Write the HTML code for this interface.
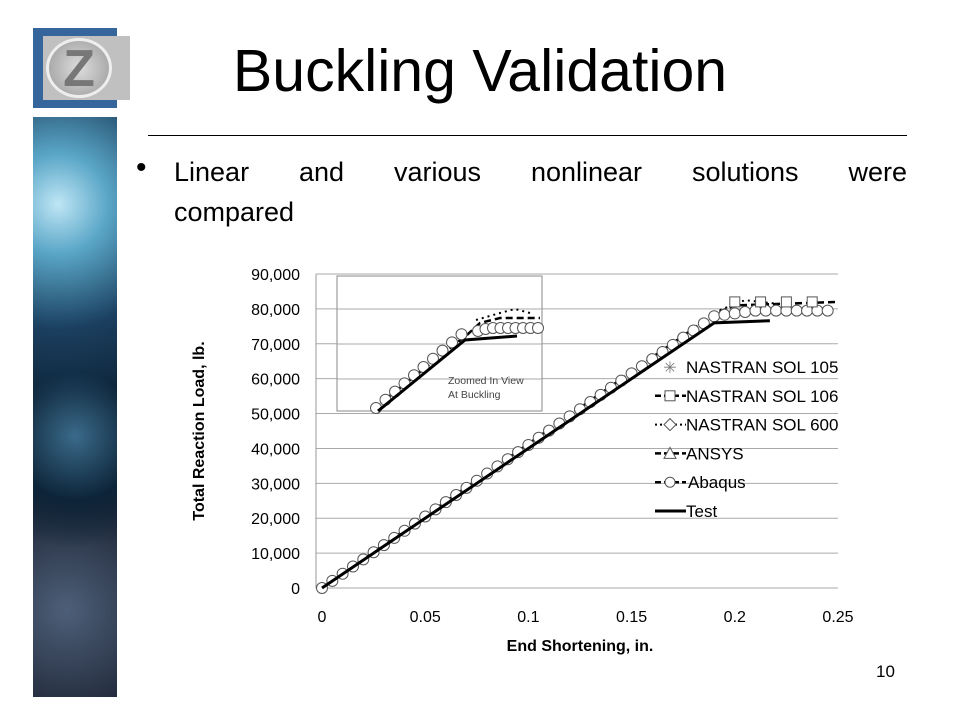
<!DOCTYPE html>
<html><head><meta charset="utf-8"><style>
body{margin:0;width:960px;height:720px;background:#fff;overflow:hidden;position:relative;font-family:"Liberation Sans",sans-serif}
.t{position:absolute}
</style></head><body>
<div class="t" style="left:33px;top:28px;width:84px;height:80px;background:#35659a"></div>
<div class="t" style="left:43px;top:36px;width:87px;height:64px;background:#c0c0c0"></div>
<div class="t" style="left:46px;top:38px;width:66px;height:60px;border-radius:50%;border:3px solid #eee;box-sizing:border-box;background:radial-gradient(circle,#ddd,#999);color:#777;font-size:52px;font-weight:bold;text-align:center;line-height:56px">Z</div>
<div class="t" style="left:33px;top:117px;width:84px;height:580px;background:radial-gradient(circle at 30% 15%,#bfe6f5 0%,#5aa6c7 10%,#1b4060 25%,transparent 40%),radial-gradient(circle at 50% 55%,#3a6a8a 0%,#0d2438 20%,transparent 35%),radial-gradient(circle at 40% 85%,#4d5f78 0%,#1a2030 25%,transparent 40%),linear-gradient(#2a5a80,#0a1a2a 30%,#142a40 50%,#0a1420 70%,#303848 90%,#1a2030)"></div>
<div class="t" style="left:0;width:960px;top:36px;text-align:center;font-size:59px;line-height:70px;color:#000">Buckling Validation</div>
<div class="t" style="left:148px;top:135px;width:759px;height:1px;background:#000"></div>
<div class="t" style="left:136px;top:151px;font-size:30px">•</div>
<div class="t" style="left:174px;top:152px;width:733px;font-size:27px;line-height:40px;text-align:justify;text-align-last:justify">Linear and various nonlinear solutions were</div>
<div class="t" style="left:174px;top:192px;font-size:27px;line-height:40px">compared</div>
<div class="t" style="left:876px;top:662px;font-size:17px">10</div>
<svg class="t" style="left:0;top:0" width="960" height="720" id="s" font-family="Liberation Sans, sans-serif"></svg>
<script>
var s=document.getElementById('s'),h='';
function X(v){return 322+v*2064}function Y(v){return 588-v*3.489/1000}
for(var i=0;i<=9;i++){var y=Y(i*10000);h+='<line x1="316" x2="838" y1="'+y+'" y2="'+y+'" stroke="#aaa" stroke-width="1"/>';
h+='<text x="300" y="'+(y+6)+'" font-size="16" text-anchor="end">'+(i==0?'0':(i*10)+',000')+'</text>';}
h+='<line x1="316" x2="316" y1="274" y2="588" stroke="#999"/>';
['0','0.05','0.1','0.15','0.2','0.25'].forEach(function(t,i){h+='<text x="'+X(i*0.05)+'" y="622" font-size="16" text-anchor="middle">'+t+'</text>'});
h+='<text x="580" y="651" font-size="16" font-weight="bold" text-anchor="middle">End Shortening, in.</text>';
h+='<text transform="translate(204,431) rotate(-90)" font-size="16" font-weight="bold" text-anchor="middle">Total Reaction Load, lb.</text>';
h+='<polyline points="'+X(0)+','+Y(0)+' '+X(0.19)+','+Y(78500)+' '+X(0.2)+','+Y(81000)+' '+X(0.25)+','+Y(82000)+'" fill="none" stroke="#000" stroke-width="2.5" stroke-dasharray="7,4"/>';
h+='<polyline points="'+X(0.19)+','+Y(79000)+' '+X(0.205)+','+Y(82500)+' '+X(0.22)+','+Y(81500)+'" fill="none" stroke="#000" stroke-width="2" stroke-dasharray="2,4"/>';
for(var v=0;v<=0.249;v+=0.005){var L=v<0.19?v*410000:Math.min(79500,77900+(v-0.19)*80000);h+='<circle cx="'+X(v)+'" cy="'+Y(L)+'" r="5.5" fill="#fff" stroke="#555"/>';}
for(var v=0.2;v<=0.25;v+=0.0125){h+='<rect x="'+(X(v)-5)+'" y="'+(Y(82000)-5)+'" width="10" height="10" fill="#fff" stroke="#555"/>';}
h+='<polyline points="'+X(0)+','+Y(0)+' '+X(0.19)+','+Y(76000)+' '+X(0.217)+','+Y(76600)+'" fill="none" stroke="#000" stroke-width="3"/>';
h+='<rect x="337" y="276" width="205" height="135" fill="#fff" stroke="#888"/>';
[309,344,379].forEach(function(y){h+='<line x1="337" x2="542" y1="'+y+'" y2="'+y+'" stroke="#aaa"/>';});
h+='<polyline points="372,410 468,334 480,323 500,318 540,318" fill="none" stroke="#000" stroke-width="2.5" stroke-dasharray="7,4"/>';
h+='<polyline points="476,320 500,313 515,309 530,313" fill="none" stroke="#000" stroke-width="2" stroke-dasharray="2,4"/>';
for(var k=0;k<10;k++){h+='<circle cx="'+(376+k*9.5)+'" cy="'+(408-k*8.2)+'" r="5.5" fill="#fff" stroke="#555"/>';}
for(var k=0;k<9;k++){h+='<circle cx="'+(478+k*7.5)+'" cy="'+(331-(k<2?k*2:3))+'" r="5.5" fill="#fff" stroke="#555"/>';}
h+='<polyline points="378,411 465,340 517,336" fill="none" stroke="#000" stroke-width="3"/>';
h+='<text x="448" y="384" font-size="10.5" fill="#444">Zoomed In View</text><text x="448" y="398" font-size="10.5" fill="#444">At Buckling</text>';
var names=['NASTRAN SOL 105','NASTRAN SOL 106','NASTRAN SOL 600','ANSYS','Abaqus','Test'];
names.forEach(function(n,i){var y=367+i*28.8;
if(i==1||i==3||i==4)h+='<line x1="655" x2="686" y1="'+y+'" y2="'+y+'" stroke="#000" stroke-width="2.5" stroke-dasharray="6,3"/>';
if(i==2)h+='<line x1="655" x2="686" y1="'+y+'" y2="'+y+'" stroke="#000" stroke-width="2" stroke-dasharray="2,3"/>';
if(i==5)h+='<line x1="655" x2="686" y1="'+y+'" y2="'+y+'" stroke="#000" stroke-width="3"/>';
if(i==0)h+='<text x="670" y="'+(y+6)+'" font-size="16" fill="#777" text-anchor="middle">✳</text>';
if(i==1)h+='<rect x="665" y="'+(y-5)+'" width="10" height="10" fill="#fff" stroke="#555"/>';
if(i==2)h+='<path d="M670 '+(y-6)+'l6 6-6 6-6-6z" fill="#fff" stroke="#555"/>';
if(i==3)h+='<path d="M670 '+(y-6)+'l6 11h-12z" fill="#fff" stroke="#555"/>';
if(i==4)h+='<circle cx="670" cy="'+y+'" r="5" fill="#fff" stroke="#555"/>';
h+='<text x="'+(i==4?688:686)+'" y="'+(y+6)+'" font-size="17">'+n+'</text>';});
s.innerHTML=h;
</script>
</body></html>
